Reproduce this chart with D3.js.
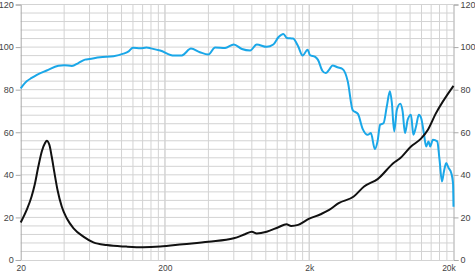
<!DOCTYPE html>
<html>
<head>
<meta charset="utf-8">
<script src="https://cdn.jsdelivr.net/npm/d3@7"></script>
<style>
  body { margin: 0; background: #fff; }
  svg { display: block; font-family: "Liberation Sans", Arial, sans-serif; }
  .tick text { fill: #444; font-size: 9px; }
  .xaxis .tick text { font-size: 8.5px; }
</style>
</head>
<body>
<script>
const width = 475, height = 273;
const xLeft = 20.7, xRight = 453.5, yTop = 4.5, yBottom = 260;

// frequency response (dB) - blue
const splFreq = [20, 22, 23.8, 25.9, 30.3, 36.5, 40, 45.3, 50.2, 55.8, 60, 70.9, 88, 103, 112, 120, 135, 149, 160, 185,
  231, 262, 303, 349, 400, 445, 522, 600, 683, 779, 865, 1014, 1127, 1222, 1325, 1400, 1545, 1675, 1800, 1950,
  2020, 2200, 2300, 2465, 2600, 2750, 2900, 3140, 3400, 3700, 4000, 4350, 4700, 5080, 5350, 5700, 5950, 6200, 6550,
  6900, 7250, 7480, 7760, 8100, 8550, 8880, 9220, 9630, 10150, 10540, 11000, 11500, 11930, 12460, 12930, 13420,
  13800, 14400, 15430, 16000, 16630, 17170, 17820, 18500, 19310, 19850, 20000];
const splValues = [80.6, 83.9, 85.5, 87, 89, 91.2, 91.5, 91.1, 92.5, 94.1, 94.4, 95.2, 95.7, 96.9, 98, 99.7, 99.4, 99.8, 99.4, 98.4,
  96, 96.1, 99.3, 97.6, 96.5, 99.8, 99.6, 101.2, 99.1, 98.4, 101.2, 100.1, 101.2, 104.6, 106.2, 104.3, 104, 100.4, 96, 98.8,
  96.3, 95.4, 94, 88.9, 87.8, 89.4, 91.4, 90.5, 89.7, 83.9, 70.4, 68.6, 61.5, 58.8, 59.6, 52.1, 55.7, 63.5, 64.3,
  72.2, 79.2, 73.7, 60.4, 70.6, 73.4, 69.8, 59.6, 65.9, 68.2, 58.8, 62.7, 68.2, 66.7, 59.6, 53.3, 55.7,
  53.3, 56.5, 55.7, 47.1, 36.9, 41.6, 45.5, 43.2, 40.8, 36.1, 25];

// impedance - black
const impFreq = [20, 22, 23.8, 25, 26.5, 28, 29.5, 30.3, 31.6, 32.8, 34.3, 36, 38.5, 41.7, 46.5, 54.4, 63.8, 78.9, 108, 141, 185,
  267, 400, 600, 717, 800, 865, 1014, 1222, 1390, 1500, 1675, 2000, 2400, 2750, 3200, 4070, 4800, 5960, 7760, 8400,
  10150, 11900, 13300, 15000, 20000];
const impValues = [17.6, 23.5, 29.8, 35.3, 43.9, 51, 54.9, 56, 54.1, 48.6, 40.8, 32.9, 25.1, 19.6, 14.9, 11, 8.3, 7, 6.3, 6, 6.3,
  7.4, 8.6, 10.2, 12.1, 13.3, 12.5, 13.3, 15.4, 16.8, 16, 16.5, 19.4, 21.5, 23.5, 26.7, 29.8, 34.5, 38, 45.8, 47.4,
  53.3, 57, 61.2, 68.5, 81.8];

const yTicks = [0, 20, 40, 60, 80, 100, 120];
const xTicks = [20, 200, 2000, 20000];
const xTickLabels = ["20", "200", "2k", "20k"];

const x = d3.scaleLog().domain([20, 20000]).range([xLeft, xRight]);
const y = d3.scaleLinear().domain([0, 120]).range([yBottom, yTop]);

const svg = d3.select("body").append("svg")
  .attr("width", width).attr("height", height);

// grid lines: 2,4,..,20 per decade and every 4 units vertically
let gridX = [];
[10, 100, 1000].forEach(d => { for (let k = 2; k <= 20; k += 2) gridX.push(k * d); });
gridX = gridX.filter(f => f > 20 && f < 20000);
const gridY = d3.range(4, 121, 4);

svg.append("g").selectAll("line").data(gridX).enter().append("line")
  .attr("x1", d => x(d)).attr("x2", d => x(d))
  .attr("y1", y(120)).attr("y2", y(0))
  .attr("stroke", "#d3d3d3").attr("stroke-width", 1);

svg.append("g").selectAll("line").data(gridY).enter().append("line")
  .attr("x1", xLeft).attr("x2", xRight)
  .attr("y1", d => y(d)).attr("y2", d => y(d))
  .attr("stroke", "#d3d3d3").attr("stroke-width", 1);

// axes
const axisL = svg.append("g").attr("transform", "translate(" + xLeft + ",0)")
  .call(d3.axisLeft(y).tickValues(yTicks).tickSize(5).tickPadding(2));
const axisR = svg.append("g").attr("transform", "translate(" + xRight + ",0)")
  .call(d3.axisRight(y).tickValues(yTicks).tickSize(5).tickPadding(2));
const axisB = svg.append("g").attr("class", "xaxis").attr("transform", "translate(0," + yBottom + ")")
  .call(d3.axisBottom(x).tickValues(xTicks).tickFormat((d, i) => xTickLabels[i]).tickSize(0).tickPadding(5));

// last label sits left of the corner, like the original
axisB.selectAll(".tick text").filter(d => d === 20000).attr("dx", "-5");

[axisL, axisR].forEach(a => {
  a.select(".domain").attr("stroke", "#aaa");
  a.selectAll(".tick line").attr("stroke", "#aaa");
});
axisB.select(".domain").attr("stroke", "#d3d3d3");

// curves
const line = d3.line()
  .x(d => x(d[0]))
  .y(d => y(d[1]))
  .curve(d3.curveMonotoneX);

svg.append("path")
  .datum(splFreq.map((f, i) => [f, splValues[i]]))
  .attr("d", line)
  .attr("fill", "none")
  .attr("stroke", "#1aa7e8")
  .attr("stroke-width", 2)
  .attr("stroke-linejoin", "round");

svg.append("path")
  .datum(impFreq.map((f, i) => [f, impValues[i]]))
  .attr("d", line)
  .attr("fill", "none")
  .attr("stroke", "#111")
  .attr("stroke-width", 2)
  .attr("stroke-linejoin", "round");
</script>
</body>
</html>
